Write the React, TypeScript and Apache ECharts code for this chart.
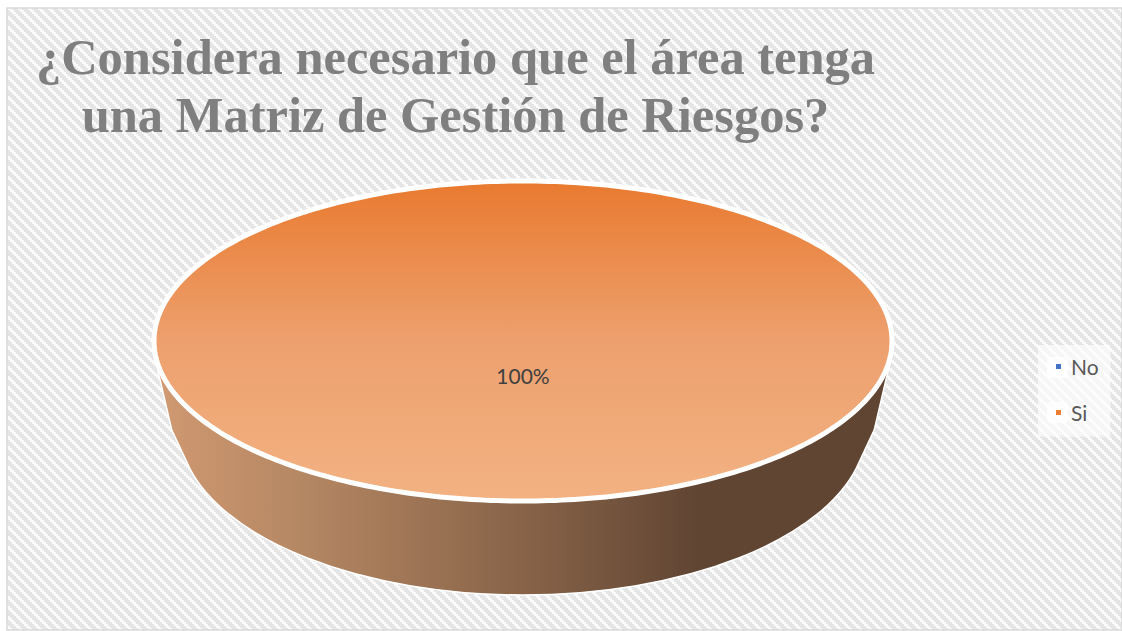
import React, { useEffect, useRef } from "react";
import * as echarts from "echarts";

const titleLines = ["¿Considera necesario que el área tenga", "una Matriz de Gestión de Riesgos?"];
const answers = ["No", "Si"];
const shares = [0, 100];
const answerColors = ["#4472C4", "#ED7D31"];

const WIDTH = 1122;
const HEIGHT = 631;

// Top face of the disc and the arc along its lower rim, in page pixels.
const TOP = { cx: 523, cy: 341, rx: 369, ry: 160 };
const FOOT = { cx: 523, rx: 344, ry: 167, startX: 186, startY: 462 };

// Diagonal hatch tile for the panel behind the chart.
function hatchTile(): HTMLCanvasElement {
  const size = 10;
  const canvas = document.createElement("canvas");
  canvas.width = size;
  canvas.height = size;
  const ctx = canvas.getContext("2d")!;
  ctx.fillStyle = "#E5E5E5";
  ctx.fillRect(0, 0, size, size);
  ctx.fillStyle = "#FBFBFB";
  for (let y = 0; y < size; y += 2) {
    for (let w = 0; w < 4; w++) {
      ctx.fillRect((y + w) % size, y, 1, 2);
    }
  }
  return canvas;
}

function ellipsePoints(startDeg: number, endDeg: number) {
  const points: number[][] = [];
  for (let d = startDeg; d <= endDeg; d += 1) {
    const a = (d * Math.PI) / 180;
    points.push([TOP.cx + TOP.rx * Math.sin(a), TOP.cy - TOP.ry * Math.cos(a)]);
  }
  return points;
}

const total = shares.reduce((a, b) => a + b, 0);

function sliceSeries(index: number) {
  const before = shares.slice(0, index).reduce((a, b) => a + b, 0);
  return {
    type: "custom",
    name: answers[index],
    coordinateSystem: "none",
    itemStyle: { color: answerColors[index] },
    data: [shares[index]],
    silent: true,
    renderItem: (_p: unknown, api: any) => {
      const value = api.value(0) as number;
      if (!value) return { type: "group", children: [] };
      const start = (before / total) * 360;
      const end = ((before + value) / total) * 360;
      const mirror = (x: number) => 2 * TOP.cx - x;
      const wallPath =
        `M157 370L171 430L${FOOT.startX} ${FOOT.startY}` +
        `A${FOOT.rx} ${FOOT.ry} 0 0 0 ${mirror(FOOT.startX)} ${FOOT.startY}` +
        `L${mirror(171)} 430L${mirror(157)} 370Z`;
      const percent = `${Math.round((value / total) * 100)}%`;
      return {
        type: "group",
        children: [
          {
            type: "path",
            shape: {
              pathData: wallPath,
              x: 157,
              y: 370,
              width: mirror(157) - 157,
              height: 225,
            },
            style: {
              fill: new echarts.graphic.LinearGradient(0, 0, 1, 0, [
                { offset: 0, color: "#D09971" },
                { offset: 0.2, color: "#B48763" },
                { offset: 0.5, color: "#886348" },
                { offset: 0.74, color: "#604533" },
                { offset: 1, color: "#604533" },
              ]),
              stroke: "#FFFFFF",
              lineWidth: 1.5,
            },
          },
          {
            type: "polygon",
            shape: { points: ellipsePoints(start, end) },
            style: {
              fill: new echarts.graphic.LinearGradient(0, 0, 0, 1, [
                { offset: 0, color: "#E97A2F" },
                { offset: 0.5, color: "#EDA06E" },
                { offset: 1, color: "#F3B283" },
              ]),
              stroke: "#FFFFFF",
              lineWidth: 5,
            },
          },
          {
            type: "text",
            style: {
              x: TOP.cx,
              y: 375,
              text: percent,
              fill: "#404040",
              font: '21px Lato, "Noto Sans", sans-serif',
              align: "center",
              verticalAlign: "middle",
            },
          },
        ],
      };
    },
  };
}

export default function App() {
  const ref = useRef<HTMLDivElement>(null);

  useEffect(() => {
    document.body.style.margin = "0";
    const chart = echarts.init(ref.current!, undefined, { renderer: "svg" });
    chart.setOption({
      animation: false,
      backgroundColor: "#FFFFFF",
      title: {
        text: titleLines.join("\n"),
        left: 450.5,
        top: 23,
        textAlign: "center",
        textStyle: {
          fontFamily: '"Liberation Serif", serif',
          fontWeight: "bold",
          fontSize: 50.5,
          lineHeight: 58,
          color: "#7F7F7F",
        },
      },
      legend: {
        orient: "vertical",
        left: 1038,
        top: 345,
        padding: [11, 12, 14, 18],
        itemGap: 25,
        itemWidth: 5,
        itemHeight: 5,
        icon: "rect",
        backgroundColor: "rgba(255,255,255,0.45)",
        z: 6,
        data: answers,
        selectedMode: false,
        textStyle: {
          fontFamily: 'Lato, "Noto Sans", sans-serif',
          fontSize: 21,
          color: "#595959",
          padding: [0, 0, 0, 5],
        },
      },
      graphic: [
        {
          type: "rect",
          z: 0,
          silent: true,
          shape: { x: 7, y: 8, width: WIDTH - 7, height: HEIGHT - 9 },
          style: {
            fill: { image: hatchTile(), repeat: "repeat" },
            stroke: "#D9D9D9",
            lineWidth: 1.5,
          },
        },
        // Pale pads behind the legend markers; the legend itself is stacked higher.
        {
          type: "rect",
          z: 1,
          silent: true,
          shape: { x: 1038, y: 345, width: 72, height: 90 },
          style: { fill: "rgba(255,255,255,0.4)" },
        },
        ...[357, 402].map((y) => ({
          type: "rect",
          z: 2,
          silent: true,
          shape: { x: 1047, y, width: 21, height: 21, r: 4 },
          style: { fill: "rgba(255,255,255,0.8)" },
        })),
      ],
      series: answers.map((_, i) => sliceSeries(i)),
    });
    return () => chart.dispose();
  }, []);

  return <div ref={ref} style={{ position: "absolute", left: 0, top: 0, width: WIDTH, height: HEIGHT }} />;
}
